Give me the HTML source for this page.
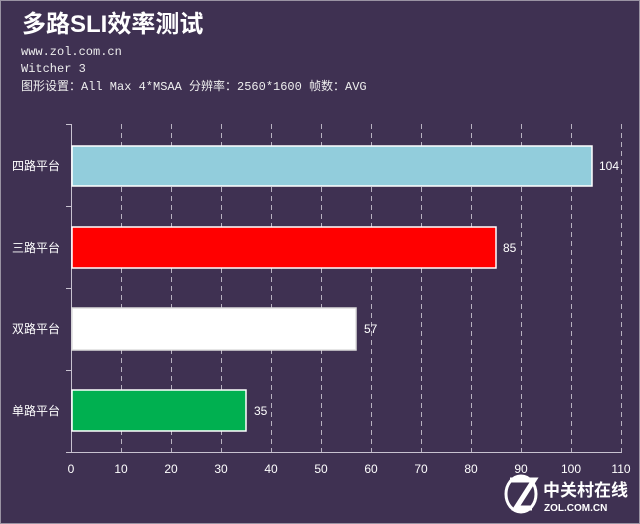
<!DOCTYPE html>
<html><head><meta charset="utf-8"><style>
html,body{margin:0;padding:0;background:#3f3152;}
svg{display:block}
text{font-family:"Liberation Sans","Noto Sans CJK SC",sans-serif;fill:#fff}
.m{font-family:"Liberation Mono","Noto Sans CJK SC",monospace;font-size:12px;fill:#eee}
</style></head><body>
<svg width="640" height="524" viewBox="0 0 640 524" xmlns="http://www.w3.org/2000/svg">
<rect x="0.5" y="0.5" width="639" height="523" fill="#3f3152" stroke="#9a93a3"/>
<text x="22" y="32" font-size="24" font-weight="bold">多路SLI效率测试</text>
<text class="m" x="21" y="55">www.zol.com.cn</text>
<text class="m" x="21" y="72" font-size="11">Witcher 3</text>
<text class="m" x="21" y="90">图形设置：All Max 4*MSAA 分辨率：2560*1600 帧数：AVG</text>
<g stroke="#b8b2c0" stroke-width="1" stroke-dasharray="5,4">
<line x1="121.5" y1="124" x2="121.5" y2="452"/><line x1="171.5" y1="124" x2="171.5" y2="452"/>
<line x1="221.5" y1="124" x2="221.5" y2="452"/><line x1="271.5" y1="124" x2="271.5" y2="452"/>
<line x1="321.5" y1="124" x2="321.5" y2="452"/><line x1="371.5" y1="124" x2="371.5" y2="452"/>
<line x1="421.5" y1="124" x2="421.5" y2="452"/><line x1="471.5" y1="124" x2="471.5" y2="452"/>
<line x1="521.5" y1="124" x2="521.5" y2="452"/><line x1="571.5" y1="124" x2="571.5" y2="452"/>
<line x1="621.5" y1="124" x2="621.5" y2="452"/>
</g>
<g stroke="#c8c2d0" stroke-width="1">
<line x1="71.5" y1="124" x2="71.5" y2="452"/>
<line x1="71" y1="452.5" x2="622" y2="452.5"/>
<line x1="66" y1="124.5" x2="71" y2="124.5"/><line x1="66" y1="206.5" x2="71" y2="206.5"/>
<line x1="66" y1="288.5" x2="71" y2="288.5"/><line x1="66" y1="370.5" x2="71" y2="370.5"/>
<line x1="66" y1="452.5" x2="71" y2="452.5"/>
</g>
<g stroke="#fff" stroke-width="1.5">
<rect x="72" y="146" width="520" height="40" fill="#92cddc"/>
<rect x="72" y="227" width="424" height="41" fill="#ff0000"/>
<rect x="72" y="308" width="284" height="42" fill="#ffffff" stroke="#ddd"/>
<rect x="72" y="390" width="174" height="41" fill="#00b050"/>
</g>
<g font-size="12">
<text x="599" y="170">104</text><text x="503" y="252">85</text>
<text x="364" y="333">57</text><text x="254" y="415">35</text>
<g text-anchor="end"><text x="60" y="170">四路平台</text><text x="60" y="252">三路平台</text>
<text x="60" y="333">双路平台</text><text x="60" y="415">单路平台</text></g>
<g text-anchor="middle" fill="#eee">
<text x="71" y="473">0</text><text x="121" y="473">10</text><text x="171" y="473">20</text>
<text x="221" y="473">30</text><text x="271" y="473">40</text><text x="321" y="473">50</text>
<text x="371" y="473">60</text><text x="421" y="473">70</text><text x="471" y="473">80</text>
<text x="521" y="473">90</text><text x="571" y="473">100</text><text x="621" y="473">110</text></g>
</g>
<g>
<ellipse cx="521" cy="494" rx="15" ry="18" fill="none" stroke="#fff" stroke-width="3"/>
<path d="M510 480 L534 480 L516 508 L532 508" fill="none" stroke="#fff" stroke-width="5"/>
<text x="543" y="496" font-size="17" font-weight="bold">中关村在线</text>
<text x="544" y="511" font-size="10" font-weight="bold">ZOL.COM.CN</text>
</g>
</svg>
</body></html>
